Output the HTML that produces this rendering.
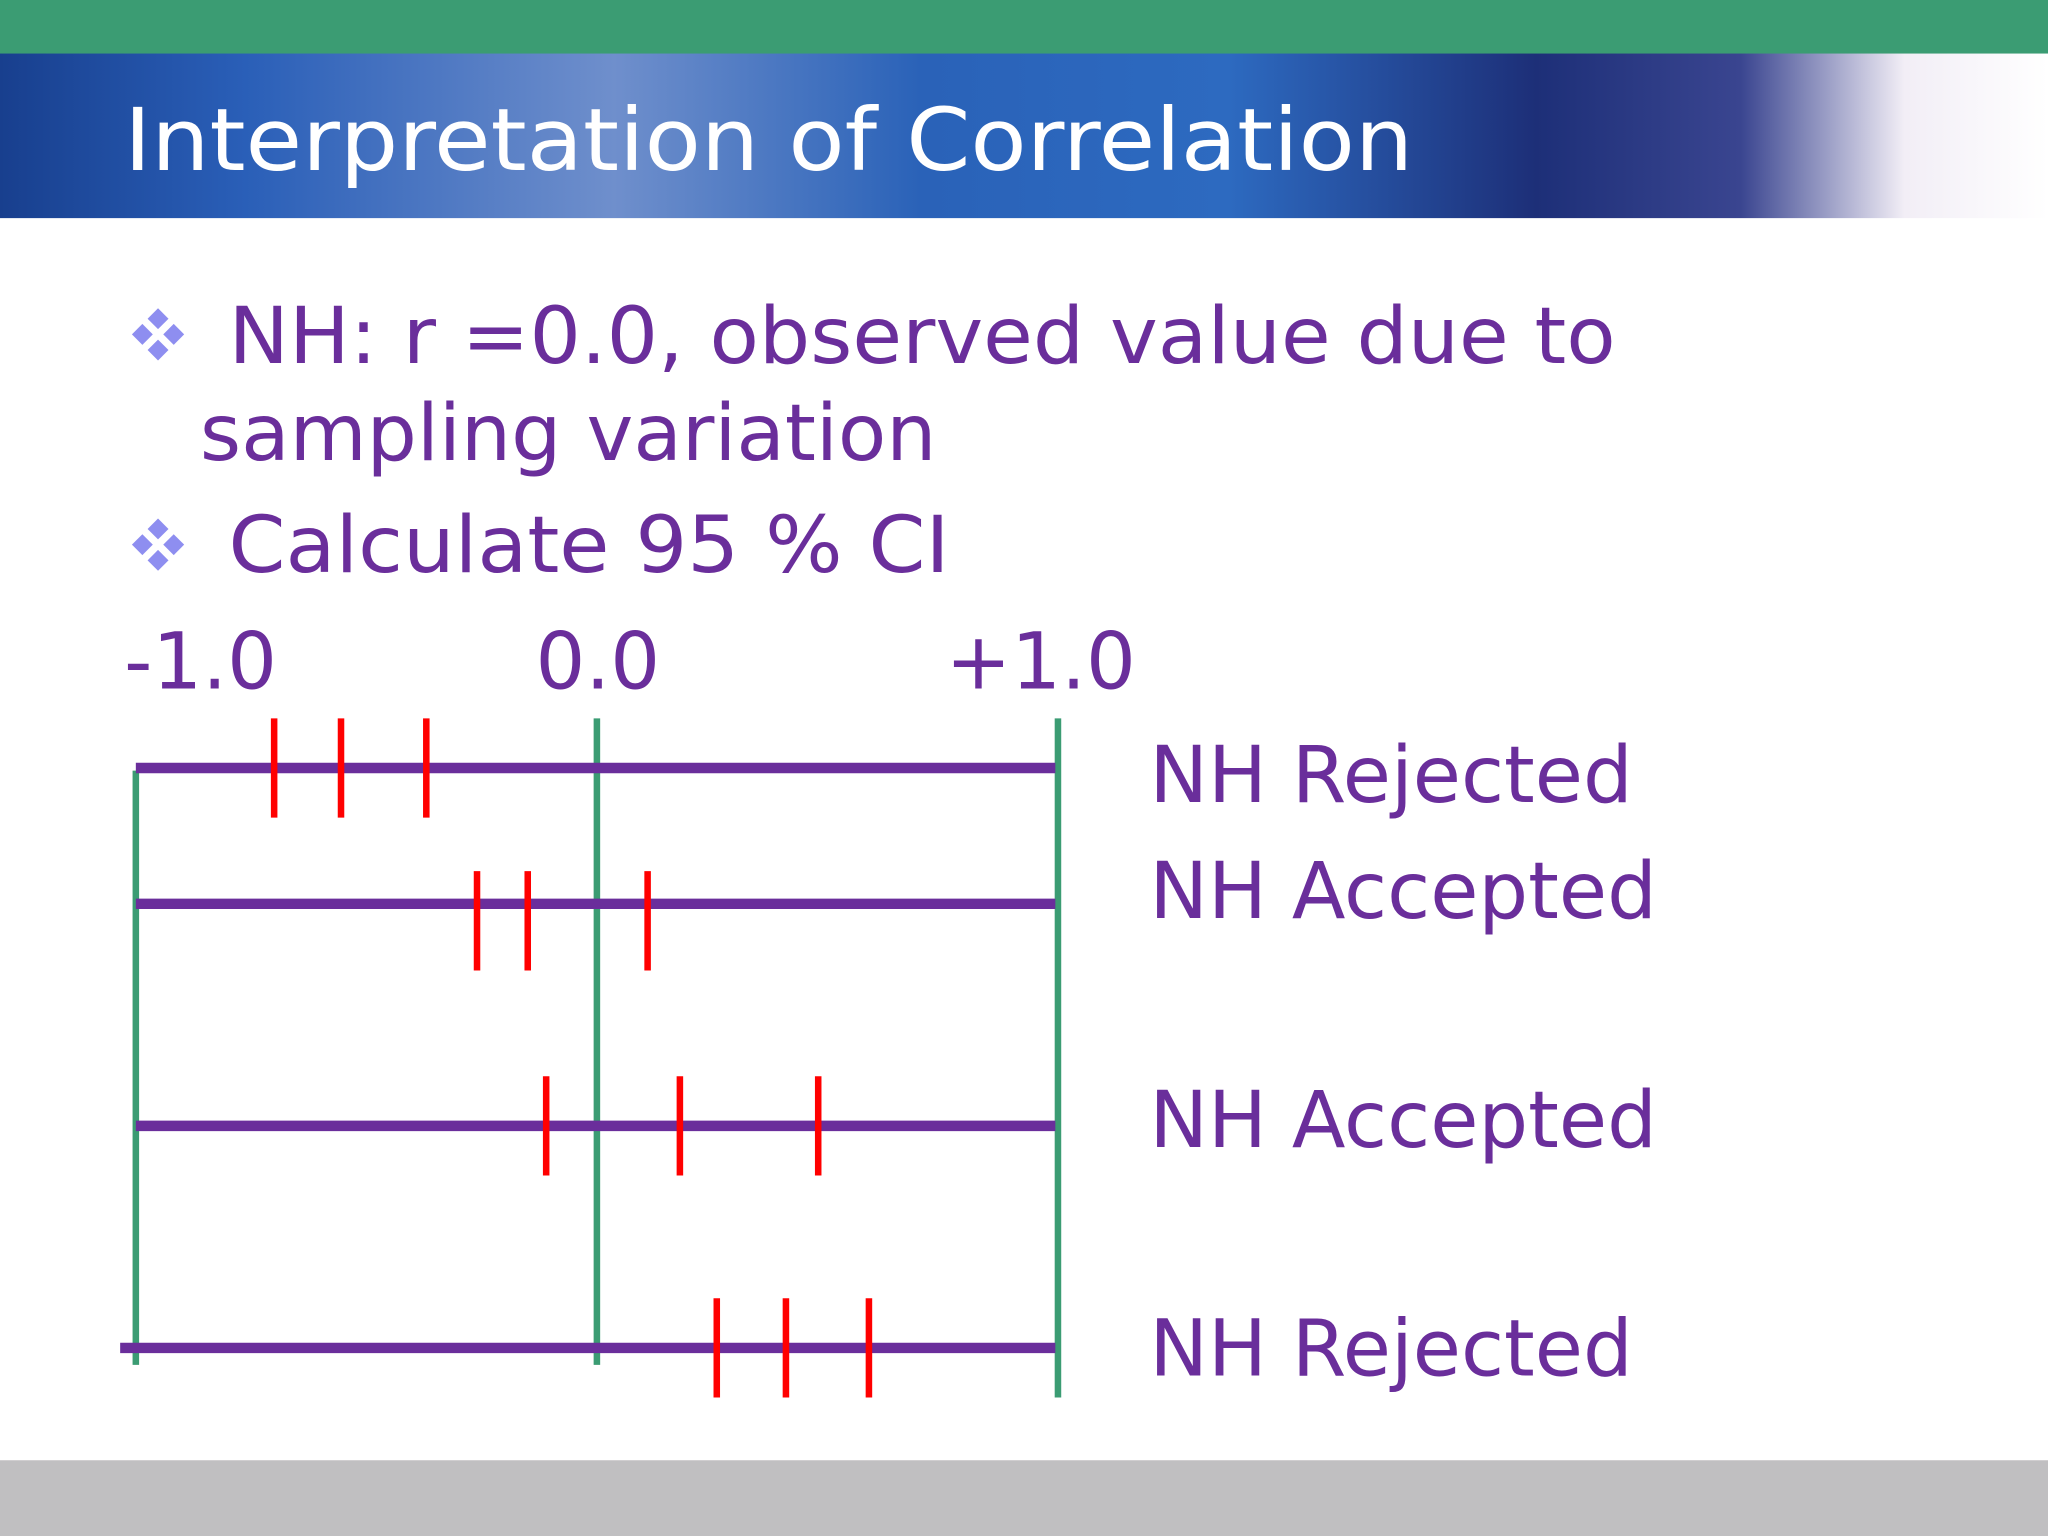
<!DOCTYPE html>
<html><head><meta charset="utf-8"><style>
html,body{margin:0;padding:0;background:#fff;width:2048px;height:1536px;overflow:hidden}
svg{display:block}
text{font-family:"DejaVu Sans","Liberation Sans",sans-serif}
</style></head><body>
<svg id="chart" width="2048" height="1536" viewBox="0 0 1568 1176" xmlns="http://www.w3.org/2000/svg">
<defs>
<linearGradient id="hdr" x1="0" y1="0" x2="1" y2="0">
<stop offset="0" stop-color="#183f8e"/>
<stop offset="0.12" stop-color="#2a5fb8"/>
<stop offset="0.3" stop-color="#6f8fcc"/>
<stop offset="0.45" stop-color="#2a62b8"/>
<stop offset="0.6" stop-color="#2d6ac0"/>
<stop offset="0.75" stop-color="#1d2f78"/>
<stop offset="0.85" stop-color="#3a4590"/>
<stop offset="0.93" stop-color="#f2eef6"/>
<stop offset="1" stop-color="#ffffff"/>
</linearGradient>
<g id="bul"><path d="M0,-8 L8,0 L0,8 L-8,0Z" fill="#8e8ef0"/></g>
</defs>
<rect x="0" y="0" width="1568" height="42" fill="#3b9c73"/>
<rect x="0" y="41" width="1568" height="126" fill="url(#hdr)"/>
<text x="95" y="130" font-size="66" fill="#fff" textLength="987" lengthAdjust="spacingAndGlyphs">Interpretation of Correlation</text>
<rect x="0" y="1118" width="1568" height="58" fill="#c0bfc1"/>
<g transform="translate(121,256)"><use href="#bul" x="0" y="-12"/><use href="#bul" x="-12" y="0"/><use href="#bul" x="12" y="0"/><use href="#bul" x="0" y="12"/></g>
<g transform="translate(121,417)"><use href="#bul" x="0" y="-12"/><use href="#bul" x="-12" y="0"/><use href="#bul" x="12" y="0"/><use href="#bul" x="0" y="12"/></g>
<g fill="#6a2e9b" font-size="60">
<text x="175" y="278" textLength="1062" lengthAdjust="spacingAndGlyphs">NH: r =0.0, observed value due to</text>
<text x="153" y="352" textLength="564" lengthAdjust="spacingAndGlyphs">sampling variation</text>
<text x="175" y="438" textLength="552" lengthAdjust="spacingAndGlyphs">Calculate 95 % CI</text>
</g>
<g id="plot"></g>
</svg>
<script>
const tickLabels = ["-1.0", "0.0", "+1.0"];
const rowLabels = ["NH Rejected", "NH Accepted", "NH Accepted", "NH Rejected"];
const lowerCI = [-0.70, -0.26, -0.11, 0.26];
const pointEst = [-0.555, -0.15, 0.18, 0.41];
const upperCI = [-0.37, 0.11, 0.48, 0.59];

const NS = "http://www.w3.org/2000/svg";
const g = document.getElementById("plot");
const xS = v => 104 + (v + 1) * 353;
const rowY = [588, 692, 862, 1032];
const tickOff = [0, 13, 0, 0];
const labelBase = [614, 703, 878, 1053];
function mk(tag, attrs){const e=document.createElementNS(NS,tag);for(const k in attrs)e.setAttribute(k,attrs[k]);g.appendChild(e);return e;}

const labelX = [95, 410, 724];
tickLabels.forEach((t,i)=>{
  const e = mk("text",{x:labelX[i],y:527,"font-size":60,fill:"#6a2e9b"});
  e.textContent = t;
  
  
});
const vTop=[590,550,550], vBot=[1045,1045,1070];
[-1,0,1].forEach((v,i)=>{
  const e = mk("line",{x1:xS(v),x2:xS(v),y1:vTop[i],y2:vBot[i],stroke:"#3b9c73","stroke-width":5});
  
  
});
rowLabels.forEach((lab,i)=>{
  const y=rowY[i];
  const ln = mk("line",{x1:i===3?92:xS(-1),x2:xS(1)-2,y1:y,y2:y,stroke:"#6a2e9b","stroke-width":8});
  
  
  const c = y + tickOff[i];
  [lowerCI[i], pointEst[i], upperCI[i]].forEach((v,j)=>{
    const t = mk("line",{x1:xS(v),x2:xS(v),y1:c-38,y2:c+38,stroke:"#f00","stroke-width":5});
    
    
  });
  const tx = mk("text",{x:880,y:labelBase[i],"font-size":60,fill:"#6a2e9b"});
  tx.textContent = lab;
  
  
});
</script>
</body></html>
